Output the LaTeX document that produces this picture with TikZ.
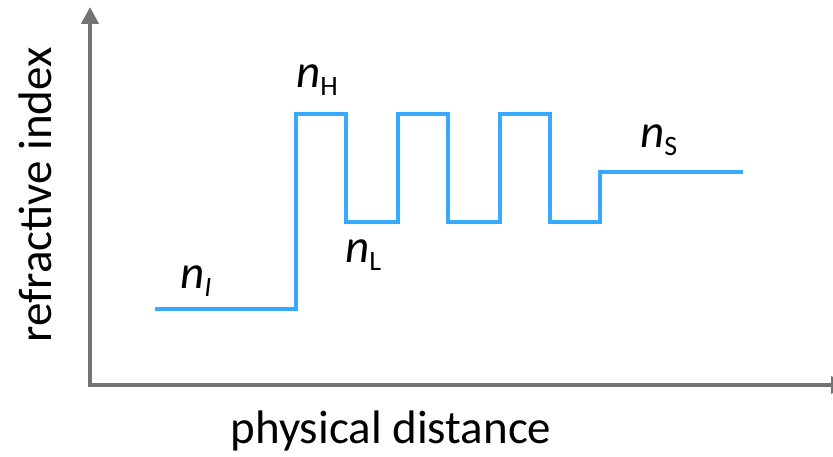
\documentclass[tikz,border=0pt]{standalone}
\usepackage{fontspec}
\setmainfont{Carlito}
\usetikzlibrary{arrows.meta}
\definecolor{axisgray}{RGB}{115,115,115}
\definecolor{profblue}{RGB}{55,170,255}
\newcommand{\idxsub}[1]{\raisebox{-8pt}{\fontsize{28}{30}\selectfont #1}}

\begin{document}
\begin{tikzpicture}[
        x=1pt, y=-1pt,
        font=\fontsize{47}{52}\selectfont,
        axis/.style={draw=axisgray, line width=4pt, {Triangle[length=17pt,width=17pt]}-{Triangle[length=17pt,width=17pt]}},
        profile/.style={draw=profblue, line width=4.5pt, line join=miter},
        idx/.style={inner sep=0pt, anchor=base west}
    ]
    \useasboundingbox (0,0) rectangle (833,457);
    % Axes
    \coordinate (ytip) at (90,7);
    \coordinate (origin) at (90,385);
    \coordinate (xtip) at (848,385);
    \draw[axis] (ytip) -- (origin) -- (xtip);
    \node[rotate=90, inner sep=0pt] (ylab) at (35,195) {refractive index};
    \node[inner sep=0pt] (xlab) at (391,431) {physical distance};

    % Index profile
    \draw[profile] (155,309) -- (296,309) -- (296,114) -- (346,114) -- (346,222)
        -- (398,222) -- (398,114) -- (448,114) -- (448,222)
        -- (500,222) -- (500,114) -- (550,114) -- (550,222)
        -- (600,222) -- (600,172) -- (743,172);

    % Labels
    \node[idx] (nI) at (180,288) {\textit{n}\idxsub{\textit{I}}};
    \node[idx] (nH) at (296,88) {\textit{n}\idxsub{H}};
    \node[idx] (nL) at (345,263) {\textit{n}\idxsub{L}};
    \node[idx] (nS) at (640,148) {\textit{n}\idxsub{S}};
\end{tikzpicture}
\end{document}
